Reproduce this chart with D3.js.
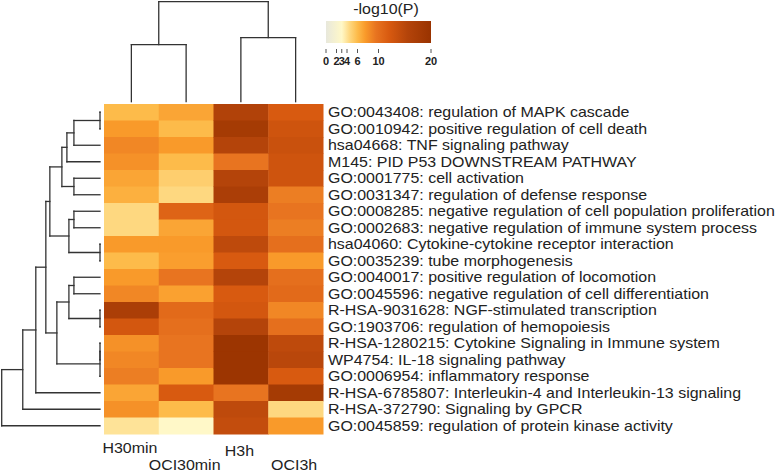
<!DOCTYPE html>
<html>
<head>
<meta charset="utf-8">
<script src="https://cdn.jsdelivr.net/npm/d3@7"></script>
<style>
  body { margin: 0; background: #fff; }
  text { font-family: Arial, "Liberation Sans", sans-serif; fill: #222; }
</style>
</head>
<body>
<div class="content"></div>
<script>
const SVGWIDTH = 777;
const SVGHEIGHT = 472;
const STRETCH = 1.14;

// columns (samples) and rows (terms)
const samples = ["H30min", "OCI30min", "H3h", "OCI3h"];
const terms = [
  "GO:0043408: regulation of MAPK cascade",
  "GO:0010942: positive regulation of cell death",
  "hsa04668: TNF signaling pathway",
  "M145: PID P53 DOWNSTREAM PATHWAY",
  "GO:0001775: cell activation",
  "GO:0031347: regulation of defense response",
  "GO:0008285: negative regulation of cell population proliferation",
  "GO:0002683: negative regulation of immune system process",
  "hsa04060: Cytokine-cytokine receptor interaction",
  "GO:0035239: tube morphogenesis",
  "GO:0040017: positive regulation of locomotion",
  "GO:0045596: negative regulation of cell differentiation",
  "R-HSA-9031628: NGF-stimulated transcription",
  "GO:1903706: regulation of hemopoiesis",
  "R-HSA-1280215: Cytokine Signaling in Immune system",
  "WP4754: IL-18 signaling pathway",
  "GO:0006954: inflammatory response",
  "R-HSA-6785807: Interleukin-4 and Interleukin-13 signaling",
  "R-HSA-372790: Signaling by GPCR",
  "GO:0045859: regulation of protein kinase activity"
];

// -log10(P) per term, one array per sample
const valH30min   = [6, 7.5, 8.5, 8, 7, 6.5, 4.5, 4.5, 7.5, 6, 7.5, 8.5, 17, 12.5, 8, 8.5, 9, 7, 8, 4];
const valOCI30min = [7, 6, 7.5, 6, 5, 4.5, 11, 7, 7.5, 7.3, 9.5, 7.2, 10.5, 10, 9.5, 9.5, 7.5, 12, 6, 3];
const valH3h      = [16, 18, 15.5, 9.5, 15.5, 17, 12.5, 12.5, 14.5, 12, 15.5, 12, 12.5, 15.5, 19.5, 19.5, 19.5, 9.5, 14.5, 14];
const valOCI3h    = [12, 13, 13.5, 13, 13, 9, 9.5, 9, 10, 7.5, 10, 10.5, 8.5, 10, 14.5, 15, 12, 18, 4.5, 7.5];
const seriesValues = [valH30min, valOCI30min, valH3h, valOCI3h];

// colour key
const legendTicks = [0, 2, 3, 4, 6, 10, 20];
const colorDomain = [0, 3, 4.5, 6, 7.5, 9.5, 12, 15.5, 20];
const colorRange = ["#e8e8dc", "#fff8c8", "#fed880", "#fdbb4a", "#f99a2a", "#e87420", "#d85a10", "#b4440a", "#993300"];

// dendrograms as linkage lists: [childA, childB, height]; new nodes get ids n, n+1, ...
const colLinkage = [[0, 1, 57], [2, 3, 64], [4, 5, 100]];
const rowLinkage = [
  [0, 1, 0], [20, 2, 26], [21, 3, 33], [4, 5, 26], [22, 23, 38],
  [6, 7, 26], [8, 9, 0], [25, 26, 31], [24, 27, 50], [10, 11, 26],
  [12, 13, 0], [29, 30, 31], [14, 15, 0], [32, 16, 0], [31, 33, 43],
  [28, 34, 54], [35, 17, 64], [36, 18, 77], [37, 19, 98]
];

const svg = d3.select(".content").append("svg")
  .attr("width", SVGWIDTH).attr("height", SVGHEIGHT);

const x = d3.scaleBand().domain(samples).range([104, 323]);
const y = d3.scaleBand().domain(terms).range([104, 434]);
const color = d3.scaleLinear().domain(colorDomain).range(colorRange).clamp(true);

// heatmap cells
let cells = [];
samples.forEach((s, j) => {
  terms.forEach((t, i) => cells.push({sample: s, term: t, value: seriesValues[j][i]}));
});
svg.append("g").attr("class", "cells").selectAll("rect")
  .data(cells)
  .join("rect")
  .attr("x", d => x(d.sample))
  .attr("y", d => y(d.term))
  .attr("width", x.bandwidth() + 0.5)
  .attr("height", y.bandwidth() + 0.5)
  .attr("fill", d => color(d.value));

// row labels
svg.append("g").attr("class", "row-labels").selectAll("text")
  .data(terms)
  .join("text")
  .attr("transform", d => "translate(328," + (y(d) + y.bandwidth() / 2 + 5) + ") scale(" + STRETCH + ",1)")
  .style("font-size", "14px")
  .text(d => d);

// column labels (staggered)
const colLabelY = [452.5, 469.5, 456, 469.5];
svg.append("g").attr("class", "col-labels").selectAll("text")
  .data(samples)
  .join("text")
  .attr("transform", (d, i) => "translate(" + (x(d) + x.bandwidth() / 2 - 1.5) + "," + colLabelY[i] + ") scale(" + STRETCH + ",1)")
  .attr("text-anchor", "middle")
  .style("font-size", "14px")
  .text(d => d);

// build segment list from a linkage: pos = leaf position, h = height scale
function dendroSegments(linkage, leafPos, hScale) {
  let pos = leafPos.slice();
  let hgt = leafPos.map(() => 0);
  let segs = [];
  linkage.forEach(m => {
    let a = m[0], b = m[1], h = m[2];
    segs.push({p1: pos[a], h1: hgt[a], p2: pos[a], h2: h});
    segs.push({p1: pos[b], h1: hgt[b], p2: pos[b], h2: h});
    segs.push({p1: pos[a], h1: h, p2: pos[b], h2: h});
    pos.push((pos[a] + pos[b]) / 2);
    hgt.push(h);
  });
  return segs.map(s => ({p1: s.p1, p2: s.p2, v1: hScale(s.h1), v2: hScale(s.h2)}));
}

// row dendrogram (left)
const rowH = d3.scaleLinear().domain([0, 98]).range([100, 1.7]);
const rowSegs = dendroSegments(rowLinkage, terms.map(t => y(t) + y.bandwidth() / 2), rowH);
svg.append("g").attr("class", "row-dendro").selectAll("line")
  .data(rowSegs)
  .join("line")
  .attr("x1", d => d.v1).attr("x2", d => d.v2)
  .attr("y1", d => d.p1).attr("y2", d => d.p2)
  .attr("stroke", "#333").attr("stroke-width", 1.3).attr("stroke-linecap", "square");

// column dendrogram (top)
const colH = d3.scaleLinear().domain([0, 100]).range([101.7, 1.7]);
const colSegs = dendroSegments(colLinkage, samples.map(s => x(s) + x.bandwidth() / 2), colH);
svg.append("g").attr("class", "col-dendro").selectAll("line")
  .data(colSegs)
  .join("line")
  .attr("y1", d => d.v1).attr("y2", d => d.v2)
  .attr("x1", d => d.p1).attr("x2", d => d.p2)
  .attr("stroke", "#333").attr("stroke-width", 1.3).attr("stroke-linecap", "square");

// colour key
const lx = d3.scaleLinear().domain([0, 20]).range([326, 431]);
const grad = svg.append("defs").append("linearGradient").attr("id", "key-grad");
grad.selectAll("stop")
  .data(colorDomain)
  .join("stop")
  .attr("offset", d => (d / 20 * 100) + "%")
  .attr("stop-color", d => color(d));
svg.append("rect")
  .attr("x", lx(0)).attr("y", 21)
  .attr("width", lx(20) - lx(0)).attr("height", 22)
  .attr("fill", "url(#key-grad)");
svg.append("text")
  .attr("transform", "translate(386,14) scale(" + STRETCH + ",1)")
  .attr("text-anchor", "middle")
  .style("font-size", "14px")
  .text("-log10(P)");

const key = svg.append("g").attr("class", "key-axis").attr("transform", "translate(0,49)");
key.selectAll("line")
  .data(legendTicks)
  .join("line")
  .attr("x1", d => lx(d)).attr("x2", d => lx(d))
  .attr("y1", 0).attr("y2", 4)
  .attr("stroke", "#555").attr("stroke-width", 1);
key.selectAll("text")
  .data(legendTicks)
  .join("text")
  .attr("transform", d => "translate(" + lx(d) + ",16) scale(1.1,1)")
  .attr("text-anchor", "middle")
  .style("font-size", "10px")
  .style("font-weight", "bold")
  .text(d => d);
</script>
</body>
</html>
